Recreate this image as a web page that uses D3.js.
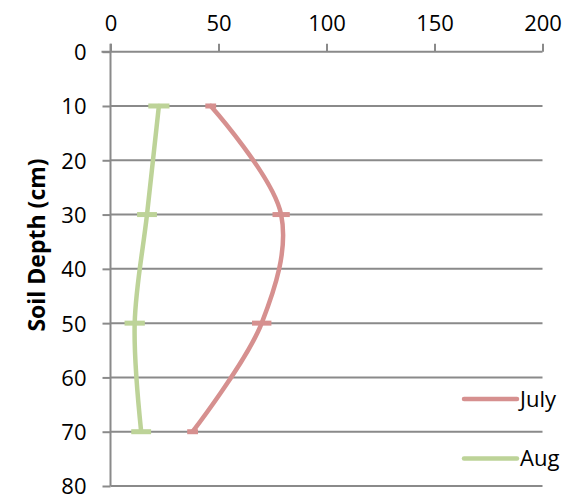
<!DOCTYPE html>
<html><head><meta charset="utf-8">
<script src="https://cdn.jsdelivr.net/npm/d3@7"></script>
<style>body{margin:0;background:#fff}text{font-family:"Open Sans",sans-serif}</style>
</head><body><svg id="c" width="580" height="499"></svg>
<script>
const depths = [10, 30, 50, 70];
const julyValues = [46.4, 79, 70, 38];
const julyErrors = [2.5, 4, 4.5, 2.5];
const augValues = [22.4, 16.9, 11.2, 14.2];
const augErrors = [4.9, 4.6, 4.7, 4.6];
const xTicks = [0, 50, 100, 150, 200];
const yTicks = [0, 10, 20, 30, 40, 50, 60, 70, 80];
const seriesNames = ["July", "Aug"];
const seriesColors = ["#D6908F", "#BDD398"];

const svg = d3.select("#c");
const x = d3.scaleLinear().domain([0, 200]).range([110.5, 542.5]);
const y = d3.scaleLinear().domain([0, 80]).range([51.7, 486]);
const gray = "#8a8a8a";

// gridlines
svg.append("g").selectAll("line").data(yTicks.filter(d => d > 0)).join("line")
  .attr("x1", x(0)).attr("x2", x(200)).attr("y1", d => y(d)).attr("y2", d => y(d))
  .attr("stroke", gray).attr("stroke-width", 2);

// top axis
const xAxis = d3.axisTop(x).tickValues(xTicks).tickSize(8).tickPadding(13);
const gx = svg.append("g").attr("transform", `translate(0,${y(0)})`).call(xAxis);
gx.select(".domain").remove();
gx.append("line").attr("x1", x(0) - 9).attr("x2", x(200)).attr("stroke", gray).attr("stroke-width", 2);
gx.selectAll(".tick line").attr("stroke", gray).attr("stroke-width", 2);
gx.selectAll(".tick text").attr("font-size", 22).attr("fill", "#000").attr("font-family", "Open Sans");

// left axis
const yAxis = d3.axisLeft(y).tickValues(yTicks).tickSize(8).tickPadding(16);
const gy = svg.append("g").attr("transform", `translate(${x(0)},0)`).call(yAxis);
gy.select(".domain").remove();
gy.append("line").attr("y1", y(0) - 8).attr("y2", y(80)).attr("stroke", gray).attr("stroke-width", 2);
gy.selectAll(".tick line").attr("stroke", gray).attr("stroke-width", 2);
gy.selectAll(".tick text").attr("font-size", 22).attr("fill", "#000").attr("font-family", "Open Sans").attr("dy", "0.36em");

// axis title
svg.append("text").attr("transform", `translate(45,245) rotate(-90)`)
  .attr("text-anchor", "middle").attr("font-size", 23).attr("font-weight", "bold").text("Soil Depth (cm)");

const series = [
  { name: seriesNames[0], values: julyValues, errors: julyErrors, color: seriesColors[0] },
  { name: seriesNames[1], values: augValues, errors: augErrors, color: seriesColors[1] }
];
const line = d3.line().x(d => x(d[0])).y(d => y(d[1])).curve(d3.curveCatmullRom.alpha(0.5));

series.forEach(s => {
  const pts = depths.map((dp, i) => [s.values[i], dp]);
  svg.append("path").datum(pts).attr("d", line).attr("fill", "none")
    .attr("stroke", s.color).attr("stroke-width", 4.5).attr("stroke-linecap", "round");
  svg.append("g").selectAll("line").data(depths.map((dp, i) => ({ dp, v: s.values[i], e: s.errors[i] }))).join("line")
    .attr("x1", d => x(d.v - d.e)).attr("x2", d => x(d.v + d.e))
    .attr("y1", d => y(d.dp)).attr("y2", d => y(d.dp))
    .attr("stroke", s.color).attr("stroke-width", 5);
});

// legend
const leg = svg.append("g").selectAll("g").data(series).join("g")
  .attr("transform", (d, i) => `translate(0,${399 + i * 59.5})`);
leg.append("line").attr("x1", 464).attr("x2", 517).attr("stroke", d => d.color)
  .attr("stroke-width", 4.5).attr("stroke-linecap", "round");
leg.append("text").attr("x", 520).attr("dy", "0.35em").attr("font-size", 22).text(d => d.name);
</script></body></html>
